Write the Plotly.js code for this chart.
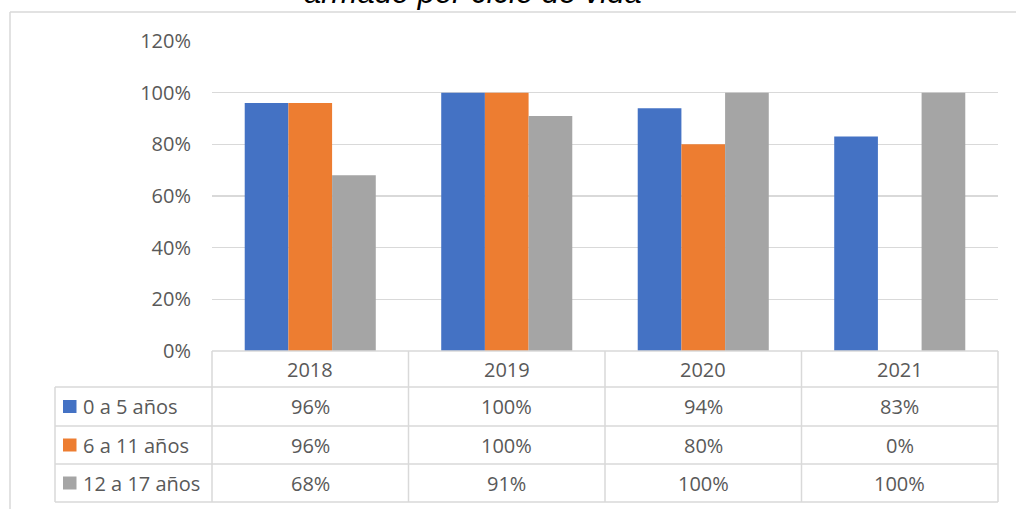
<!DOCTYPE html>
<html>
<head>
<meta charset="utf-8">
<script src="https://cdn.plot.ly/plotly-3.0.1.min.js"></script>
<style>html,body{margin:0;padding:0;background:#fff;}#chart{width:1016px;height:509px;}</style>
</head>
<body>
<div id="chart"></div>
<script>
// ---- data ----
const categories = ['2018', '2019', '2020', '2021'];
const seriesNames = ['0 a 5 años', '6 a 11 años', '12 a 17 años'];
const serie0a5 = [96, 100, 94, 83];
const serie6a11 = [96, 100, 80, 0];
const serie12a17 = [68, 91, 100, 100];
const yTickValues = [0, 20, 40, 60, 80, 100, 120];
const titleText = 'armado por ciclo de vida';

const seriesValues = [serie0a5, serie6a11, serie12a17];
const colors = ['#4472C4', '#ED7D31', '#A5A5A5'];

// ---- geometry ----
const FW = 1016, FH = 509;
const M = {l: 212, r: 18, t: 41, b: 158};
const PW = FW - M.l - M.r, PH = FH - M.t - M.b;
const px = x => (x - M.l) / PW;
const py = y => (M.t + PH - y) / PH;

const lineCol = '#D9D9D9';
const textCol = '#595959';
const font = 'Open Sans, sans-serif';
const fsize = 20;

const traces = seriesValues.map((vals, s) => ({
  type: 'bar',
  x: categories,
  y: vals,
  name: seriesNames[s],
  marker: {color: colors[s], line: {width: 0}},
  hoverinfo: 'skip'
}));

const shapes = [];
const annotations = [];
const N = categories.length;

// table rows (pixel y boundaries)
const headerTop = 351, rowB = [387, 426, 464, 502];
const tableLeft = 55;
function hline(x0, x1, y) {
  shapes.push({type: 'line', xref: 'paper', yref: 'paper', x0: x0, x1: x1, y0: py(y), y1: py(y),
    line: {color: lineCol, width: 1.5}});
}
function vline(x, y0, y1) {
  shapes.push({type: 'line', xref: 'paper', yref: 'paper', x0: x, x1: x, y0: py(y0), y1: py(y1),
    line: {color: lineCol, width: 1.5}});
}
hline(0, 1, headerTop);
rowB.forEach(y => hline(px(tableLeft), 1, y));
vline(px(tableLeft), rowB[0], rowB[rowB.length - 1]);
for (let i = 0; i <= N; i++) vline(i / N, headerTop, rowB[rowB.length - 1]);

// chart outer border (left + top)
shapes.push({type: 'line', xref: 'paper', yref: 'paper', x0: px(10), x1: px(10), y0: py(12), y1: py(FH),
  line: {color: lineCol, width: 1.5}});
shapes.push({type: 'line', xref: 'paper', yref: 'paper', x0: px(10), x1: px(FW + 5), y0: py(12), y1: py(12),
  line: {color: lineCol, width: 1.5}});

// header (years) - category axis positions by index
categories.forEach((c, i) => {
  annotations.push({xref: 'x', yref: 'paper', x: i, y: py((headerTop + rowB[0]) / 2), text: c,
    showarrow: false, xanchor: 'center', yanchor: 'middle', font: {family: font, size: fsize, color: textCol}});
});
// rows
seriesValues.forEach((vals, s) => {
  const top = rowB[s], bot = rowB[s + 1];
  const cy = (top + bot) / 2;
  shapes.push({type: 'rect', xref: 'paper', yref: 'paper', x0: px(63), x1: px(76.5), y0: py(cy + 6.5), y1: py(cy - 6.5),
    fillcolor: colors[s], line: {width: 0}});
  annotations.push({xref: 'paper', yref: 'paper', x: px(81), y: py(cy), text: seriesNames[s],
    showarrow: false, xanchor: 'left', yanchor: 'middle', font: {family: font, size: fsize, color: textCol}});
  vals.forEach((v, i) => {
    annotations.push({xref: 'x', yref: 'paper', x: i, y: py(cy), text: v + '%',
      showarrow: false, xanchor: 'center', yanchor: 'middle', font: {family: font, size: fsize, color: textCol}});
  });
});

// title (cut off at top, as in the reference)
annotations.push({xref: 'paper', yref: 'paper', x: px(473), y: py(12), text: '<i>' + titleText + '</i>',
  showarrow: false, xanchor: 'center', yanchor: 'bottom',
  font: {family: 'Liberation Sans, Arial, sans-serif', size: 31, color: '#000000'}});

const layout = {
  width: FW, height: FH,
  margin: M,
  paper_bgcolor: '#ffffff', plot_bgcolor: '#ffffff',
  showlegend: false,
  barmode: 'group',
  bargap: 0.333, bargroupgap: 0,
  xaxis: {type: 'category', range: [-0.5, N - 0.5], showticklabels: false, showgrid: false,
    zeroline: false, showline: false, ticks: ''},
  yaxis: {range: [0, 120], tickvals: yTickValues, ticktext: yTickValues.map(v => v + '%'),
    showgrid: true, gridcolor: lineCol, gridwidth: 1.5, zeroline: false, showline: false, ticks: '',
    ticklabelstandoff: 20, tickfont: {family: font, size: fsize, color: textCol}},
  shapes: shapes,
  annotations: annotations
};

Plotly.newPlot('chart', traces, layout, {staticPlot: true, displayModeBar: false});
</script>
</body>
</html>
